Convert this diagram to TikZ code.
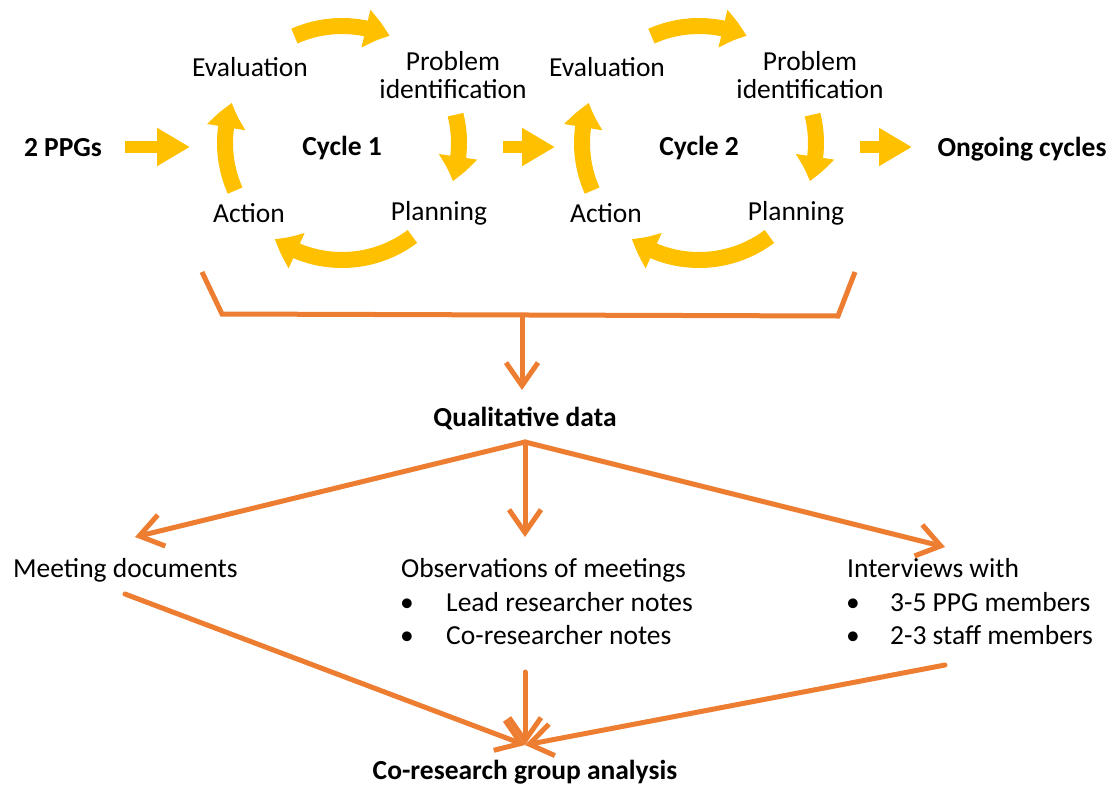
\documentclass[tikz,border=0pt]{standalone}
\usepackage{fontspec}
\setmainfont{Carlito}
\usetikzlibrary{arrows.meta,bending}
\definecolor{amber}{HTML}{FFC000}
\definecolor{tangerine}{HTML}{ED7D31}

\tikzset{
  lbl/.style={font=\fontsize{27.5}{28}\selectfont, inner sep=0pt, anchor=base},
  hdr/.style={lbl, font=\fontsize{27.5}{28}\selectfont\bfseries},
  cyclearrow/.style={amber, line width=16pt, -{Triangle[length=25pt,width=37pt,bend]}},
  blockarrow/.style={amber, line width=12pt, -{Triangle[length=33pt,width=36pt]}},
  flow/.style={tangerine, line width=5pt, line cap=round, -{Straight Barb[length=23pt,width=32pt]}}
}

\begin{document}
\begin{tikzpicture}[x=1pt,y=1pt]
\useasboundingbox (0,0) rectangle (1110,-787);

% inputs and outputs of the cycles
\node[hdr] (ppg) at (63,-156) {2 PPGs};
\node[hdr] (ongoing) at (1022,-156) {Ongoing cycles};

% the two action research cycles
\foreach \c/\dx in {1/0,2/357}{
  \coordinate (cyc\c) at (342+\dx,-143);
  \draw[cyclearrow] (cyc\c) ++(114:117) arc[start angle=114,end angle=66,radius=117];
  \draw[cyclearrow] (cyc\c) ++(14:117) arc[start angle=14,end angle=-19,radius=117];
  \draw[cyclearrow] (cyc\c) ++(-53:117) arc[start angle=-53,end angle=-125,radius=117];
  \draw[cyclearrow] (cyc\c) ++(204:117) arc[start angle=204,end angle=160,radius=117];
  \node[hdr] (cyclbl\c) at (342+\dx,-155) {Cycle \c};
  \node[lbl] (eval\c) at (250+\dx,-76) {Evaluation};
  \node[lbl, anchor=center, align=center] (prob\c) at (453+\dx,-75) {Problem\\identification};
  \node[lbl] (act\c) at (249+\dx,-222) {Action};
  \node[lbl] (plan\c) at (439+\dx,-220) {Planning};
}

\coordinate (in1) at (125,-147);
\coordinate (in2) at (190,-147);
\coordinate (mid1) at (503,-147);
\coordinate (mid2) at (555,-147);
\coordinate (out1) at (860,-147);
\coordinate (out2) at (912,-147);
\draw[blockarrow] (in1) -- (in2);
\draw[blockarrow] (mid1) -- (mid2);
\draw[blockarrow] (out1) -- (out2);

% bracket collecting the data
\coordinate (brL) at (202,-272);
\coordinate (brLb) at (222,-314);
\coordinate (brRb) at (838,-316);
\coordinate (brR) at (855,-272);
\coordinate (brM) at (522,-315);
\draw[tangerine, line width=5pt] (brL) -- (brLb) -- (brRb) -- (brR);
\node[hdr] (qual) at (525,-426) {Qualitative data};
\coordinate (qualin) at (522,-390);
\draw[flow] (brM) -- (qualin);

% data sources
\node[lbl, anchor=base west] (meet) at (13,-577) {Meeting documents};
\node[lbl, anchor=base west] (obs) at (401,-577) {Observations of meetings};
\node[lbl] (obsb1) at (407,-611) {•};
\node[lbl, anchor=base west] (obs1) at (446,-611) {Lead researcher notes};
\node[lbl] (obsb2) at (407,-644) {•};
\node[lbl, anchor=base west] (obs2) at (446,-644) {Co-researcher notes};
\node[lbl, anchor=base west] (intv) at (847,-577) {Interviews with};
\node[lbl] (intvb1) at (853,-611) {•};
\node[lbl, anchor=base west] (intv1) at (890,-611) {3-5 PPG members};
\node[lbl] (intvb2) at (853,-644) {•};
\node[lbl, anchor=base west] (intv2) at (890,-644) {2-3 staff members};

\coordinate (qualout) at (525,-442);
\coordinate (meetin) at (135,-537);
\coordinate (obsin) at (525,-537);
\coordinate (intvin) at (945,-547);
\draw[flow] (qualout) -- (meetin);
\draw[flow] (qualout) -- (obsin);
\draw[flow] (qualout) -- (intvin);

% analysis
\node[hdr] (anal) at (525,-779) {Co-research group analysis};
\coordinate (meetout) at (125,-594);
\coordinate (obsout) at (525,-672);
\coordinate (intvout) at (945,-665);
\coordinate (analin) at (525,-745);
\draw[flow] (meetout) -- (analin);
\draw[flow] (obsout) -- (analin);
\draw[flow] (intvout) -- (analin);
\end{tikzpicture}
\end{document}
